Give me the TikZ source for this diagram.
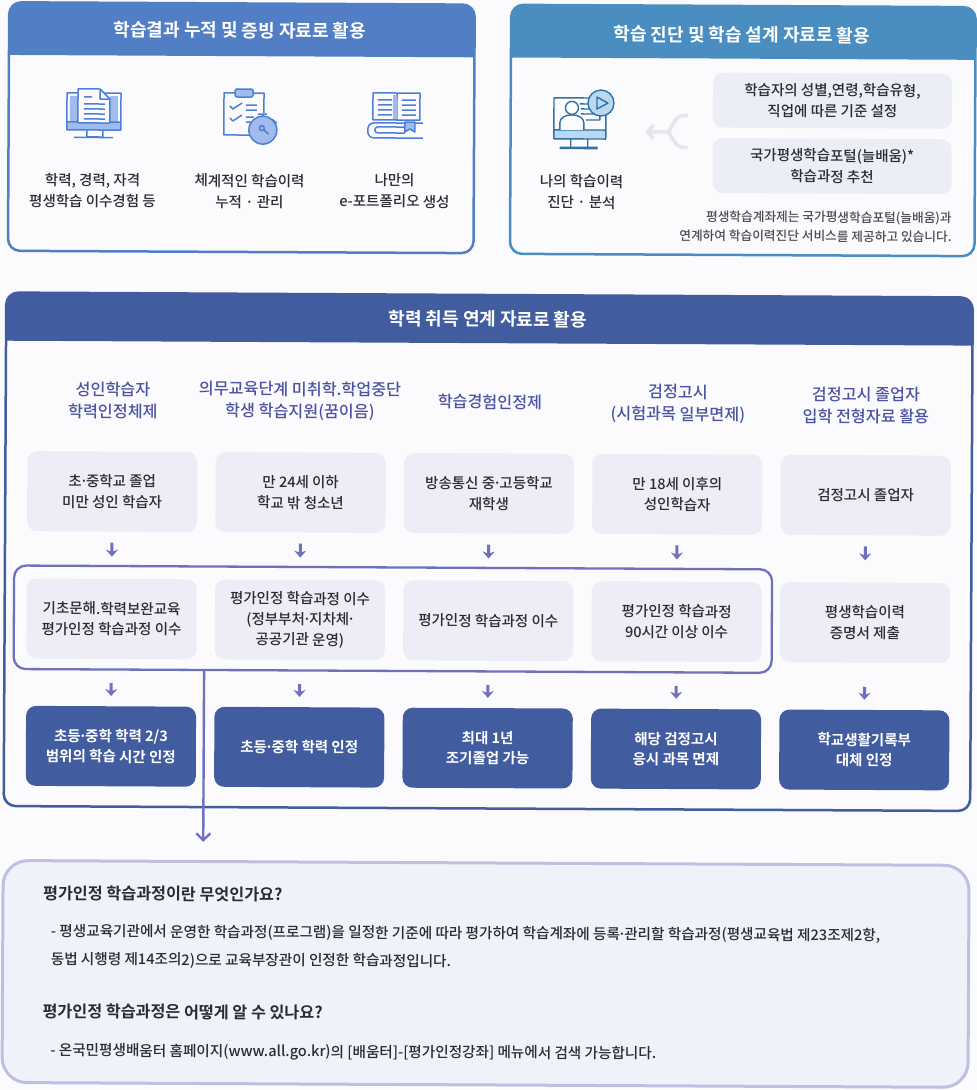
\documentclass[tikz,border=0pt]{standalone}
\usepackage{fontspec}
\setmainfont{Noto Sans CJK KR}[UprightFont=* Medium,BoldFont=* Bold]
\usetikzlibrary{arrows.meta,positioning}
\definecolor{paper}{HTML}{FBFBFD}
\definecolor{blue_a}{HTML}{527EC6}
\definecolor{blue_b}{HTML}{4A8DC0}
\definecolor{navy}{HTML}{415DA0}
\definecolor{violet}{HTML}{6F70BE}
\definecolor{soft}{HTML}{ECEDF6}
\definecolor{softb}{HTML}{EBEFF5}
\definecolor{softc}{HTML}{F0F2FA}
\definecolor{ink}{HTML}{2B2B33}
\definecolor{titleblue}{HTML}{4B53A3}
\definecolor{ic_a}{HTML}{4D7FD8}
\definecolor{ic_al}{HTML}{A0BCEC}
\definecolor{ic_b}{HTML}{2F72A8}
\definecolor{ic_bl}{HTML}{BAD8F0}
\definecolor{forkgray}{HTML}{E3E6EA}
\newcommand{\tdot}{\kern-.14em·\kern-.14em}
\tikzset{
  panel/.style 2 args={draw=#1,fill=paper,line width=2.5pt,rounded corners=12pt,anchor=north west,inner sep=0pt,
    path picture={\fill[#1,sharp corners] (path picture bounding box.north west) rectangle ([yshift=-#2]path picture bounding box.north east);}},
  head_txt/.style={font=\fontsize{18}{21}\selectfont\bfseries,text=white,align=center},
  plain_txt/.style={font=\fontsize{14.5}{21}\selectfont,text=ink,align=center},
  col_title/.style={font=\fontsize{16.2}{22}\selectfont,text=titleblue,align=center},
  node_soft/.style={fill=soft,rounded corners=10pt,minimum width=170pt,minimum height=80pt,inner sep=0pt,
    font=\fontsize{14.5}{20.5}\selectfont,text=ink,align=center},
  node_soft2/.style={fill=softb,rounded corners=10pt,minimum width=239pt,minimum height=55pt,inner sep=0pt,
    font=\fontsize{14.5}{21}\selectfont,text=ink,align=center},
  node_dark/.style={fill=navy,rounded corners=10pt,minimum width=170pt,minimum height=80pt,inner sep=0pt,
    font=\fontsize{14.5}{20.5}\selectfont\bfseries,text=white,align=center},
  faq_head/.style={font=\fontsize{16.2}{20}\selectfont\bfseries,text=ink,anchor=west,inner sep=0pt},
  faq_line/.style={font=\fontsize{14.6}{20}\selectfont,text=ink,anchor=west,inner sep=0pt},
  arr_in/.style={-{Stealth[length=7pt,width=12pt]},draw=violet,line width=3pt,shorten <=11pt,shorten >=22pt},
  arr_out/.style={-{Stealth[length=7pt,width=12pt]},draw=violet,line width=3pt,shorten <=24pt,shorten >=10pt},
  arr_long/.style={-{Straight Barb[length=7pt,width=14pt,line width=2.4pt]},draw=violet,line width=2.4pt},
  icon_a/.style={draw=ic_a,line width=1.5pt,line join=round},
  icon_b/.style={draw=ic_b,line width=1.4pt,line join=round},
}
\begin{document}
\begin{tikzpicture}
  \fill[paper] (0,0) rectangle (977pt,-1090pt);
  \useasboundingbox (0,0) rectangle (977pt,-1090pt);
  \begin{scope}[x=1pt,y=-1pt,rotate=-0.29,transform shape]
    % upper panels
    \node[panel={blue_a}{55pt},minimum width=465.5pt,minimum height=248.5pt] (pa) at (8,1) {};
    \node[head_txt] (ha) at (240,29) {학습결과 누적 및 증빙 자료로 활용};
    \node[panel={blue_b}{55pt},minimum width=464.5pt,minimum height=249pt] (pb) at (510,1) {};
    \node[head_txt] (hb) at (742,31) {학습 진단 및 학습 설계 자료로 활용};
    \node[plain_txt] (ta1) at (93.5,190) {학력, 경력, 자격\\평생학습 이수경험 등};
    \node[plain_txt] (ta2) at (250.5,190) {체계적인 학습이력\\누적 · 관리};
    \node[plain_txt] (ta3) at (395.5,189) {나만의\\e-포트폴리오 생성};
    \node[plain_txt] (tb1) at (582.5,189) {나의 학습이력\\진단 · 분석};
    \node[node_soft2] (b1) at (833,96.5) {학습자의 성별,연령,학습유형,\\직업에 따른 기준 설정};
    \node[node_soft2,below=10pt of b1] (b2) {국가평생학습포털(늘배움)*\\학습과정 추천};
    \node[font=\fontsize{12.7}{19}\selectfont,text=ink!85,align=right,anchor=east,inner sep=0pt] (nb) at (953,222.5)
      {평생학습계좌제는 국가평생학습포털(늘배움)과\\연계하여 학습이력진단 서비스를 제공하고 있습니다.};
    % icon: monitor with document
    \begin{scope}[shift={(0.5,-0.5)}]
      \fill[ic_al] (70,96) rectangle (78,122) (110,96) rectangle (118,122) (67,122) rectangle (121,130);
      \draw[icon_a] (67,93) rectangle (121,130) (67,122) -- (121,122) (87,130) rectangle (103,137) (74,137.5) -- (113,137.5);
      \draw[icon_a,fill=paper] (78,89) -- (100,89) -- (110,99) -- (110,123) -- (78,123) -- cycle;
      \draw[icon_a] (100,89) -- (100,99) -- (110,99) (84,97) -- (92,97) (84,104) -- (105,104) (84,109) -- (105,109) (84,114) -- (105,114) (84,119) -- (105,119);
    \end{scope}
    % icon: clipboard with stopwatch
    \begin{scope}[shift={(0.5,-1.2)}]
      \draw[icon_a] (264,113) -- (264,93) -- (224,93) -- (224,135) -- (250,135);
      \draw[icon_a,fill=ic_al,rounded corners=1.5pt] (235,89) rectangle (253,97);
      \draw[icon_a] (230,106) -- (233,109) -- (242,103) (230,118) -- (233,121) -- (242,115);
      \draw[icon_a] (246,105) -- (257,105) (246,110) -- (257,110) (246,117) -- (254,117) (246,122) -- (251,122);
      \draw[icon_a] (258,114) -- (267,114) (263,114) -- (263,117) (272,119) -- (277,123);
      \draw[icon_a,fill=ic_al] (263,130) circle[radius=14];
      \draw[icon_a] (262,128) circle[radius=2.5] (264,130) -- (269,134);
    \end{scope}
    % icon: books
    \begin{scope}[shift={(0.5,-2)}]
      \draw[icon_a,fill=paper] (373,93) rectangle (397,120) (397,93) rectangle (420,120);
      \fill[ic_al] (393,95) rectangle (397,119);
      \draw[icon_a] (378,100) -- (392,100) (378,105) -- (392,105) (378,110) -- (392,110) (378,115) -- (392,115);
      \draw[icon_a] (402,100) -- (416,100) (402,105) -- (416,105) (402,110) -- (416,110) (402,115) -- (416,115);
      \draw[icon_a,rounded corners=6pt] (423,123) -- (368,123) -- (368,138) -- (423,138);
      \draw[icon_a,rounded corners=3pt] (405,127) -- (375,127) -- (375,133) -- (405,133);
      \draw[icon_a,fill=ic_al] (405,122) -- (415,122) -- (415,132) -- (410,129) -- (405,132) -- cycle;
    \end{scope}
    % icon: monitor with person
    \begin{scope}[shift={(0.5,-3)}]
      \fill[ic_bl] (554,130) rectangle (606,139);
      \draw[icon_b] (590,98) -- (554,98) -- (554,139) -- (606,139) -- (606,112) (554,130) -- (606,130) (571,139) -- (571,147) (588,139) -- (588,147);
      \draw[ic_b,line width=2.6pt] (560,148) -- (598,148);
      \draw[icon_b,fill=paper] (560,130) -- (560,123) to[out=90,in=180] (572,115) to[out=0,in=90] (584,123) -- (584,130);
      \draw[icon_b,fill=paper] (572,108) circle[radius=6.5];
      \draw[icon_b] (580,104) -- (590,104) (581,109) -- (596,109) (581,114) -- (600,114) -- (600,120) -- (586,120);
      \draw[icon_b,fill=ic_bl] (601,103) circle[radius=13];
      \draw[icon_b] (597,97) -- (608,103) -- (597,109) -- cycle;
    \end{scope}
    \coordinate (fork_top) at (688.5,112);
    \coordinate (fork_bot) at (688.5,144);
    \coordinate (fork_mid) at (668.5,128.5);
    \coordinate (fork_tip) at (646,128.5);
    \draw[draw=forkgray,line width=3.6pt,rounded corners=4pt] (fork_top) -- ++(-9,0) -- (fork_mid) -- ++(11,15.5) -- (fork_bot);
    \draw[-{Straight Barb[length=6pt,width=14pt,line width=3.6pt]},draw=forkgray,line width=3.6pt] (fork_mid) -- (fork_tip);
    % main panel
    \node[panel={navy}{53pt},minimum width=966.5pt,minimum height=513.5pt] (pc) at (6.5,291.3) {};
    \node[head_txt] (hc) at (489.5,316.6) {학력 취득 연계 자료로 활용};
    \node[draw=violet,line width=2.3pt,rounded corners=12pt,minimum width=758pt,minimum height=103.5pt,inner sep=0pt] (grp) at (396,617.2) {};
    \node[col_title] (t1) at (115,400) {성인학습자\\학력인정체제};
    \node[col_title] (t2) at (302,399.5) {의무교육단계 미취학.학업중단\\학생 학습지원(꿈이음)};
    \node[col_title] (t3) at (492,399.5) {학습경험인정제};
    \node[col_title] (t4) at (680,400.5) {검정고시\\(시험과목 일부면제)};
    \node[col_title] (t5) at (868,401) {검정고시 졸업자\\입학 전형자료 활용};
    \node[node_soft] (a1) at (114.7,491) {초\tdot 중학교 졸업\\미만 성인 학습자};
    \node[node_soft,right=18pt of a1] (a2) {만 24세 이하\\학교 밖 청소년};
    \node[node_soft,right=18pt of a2] (a3) {방송통신 중\tdot 고등학교\\재학생};
    \node[node_soft,right=18pt of a3] (a4) {만 18세 이후의\\성인학습자};
    \node[node_soft,right=18pt of a4] (a5) {검정고시 졸업자};
    \node[node_soft,below=47pt of a1] (c1) {기초문해.학력보완교육\\평가인정 학습과정 이수};
    \node[node_soft,below=47pt of a2] (c2) {평가인정 학습과정 이수\\(정부부처\tdot 지차체\tdot\\공공기관 운영)};
    \node[node_soft,below=47pt of a3] (c3) {평가인정 학습과정 이수};
    \node[node_soft,below=47pt of a4] (c4) {평가인정 학습과정\\90시간 이상 이수};
    \node[node_soft,below=47pt of a5] (c5) {평생학습이력\\증명서 제출};
    \node[node_dark,below=47pt of c1] (r1) {초등\tdot 중학 학력 2/3\\범위의 학습 시간 인정};
    \node[node_dark,below=47pt of c2] (r2) {초등\tdot 중학 학력 인정};
    \node[node_dark,below=47pt of c3] (r3) {최대 1년\\조기졸업 가능};
    \node[node_dark,below=47pt of c4] (r4) {해당 검정고시\\응시 과목 면제};
    \node[node_dark,below=47pt of c5] (r5) {학교생활기록부\\대체 인정};
    \draw[arr_in](a1)--(c1);\draw[arr_in](a2)--(c2);\draw[arr_in](a3)--(c3);\draw[arr_in](a4)--(c4);\draw[arr_in](a5)--(c5);
    \draw[arr_out](c1)--(r1);\draw[arr_out](c2)--(r2);\draw[arr_out](c3)--(r3);\draw[arr_out](c4)--(r4);\draw[arr_out](c5)--(r5);
    % lower panel
    \node[draw=violet!45,fill=softc,line width=3pt,rounded corners=25pt,anchor=north west,inner sep=0pt,
      minimum width=966pt,minimum height=222pt] (pd) at (6,859) {};
    \coordinate (drop) at (207.5,841);
    \draw[arr_long] (grp.south -| drop) -- (drop);
    \node[faq_head] (q1) at (47.5,893) {평가인정 학습과정이란 무엇인가요?};
    \node[faq_line] (l1) at (55.5,931.5) {- 평생교육기관에서 운영한 학습과정(프로그램)을 일정한 기준에 따라 평가하여 학습계좌에 등록\tdot 관리할 학습과정(평생교육법 제23조제2항,};
    \node[faq_line] (l2) at (55.5,959.5) {동법 시행령 제14조의2)으로 교육부장관이 인정한 학습과정입니다.};
    \node[faq_head] (q2) at (47.5,1011) {평가인정 학습과정은 어떻게 알 수 있나요?};
    \node[faq_line] (l3) at (55.5,1051) {- 온국민평생배움터 홈페이지(www.all.go.kr)의 [배움터]-[평가인정강좌] 메뉴에서 검색 가능합니다.};
  \end{scope}
\end{tikzpicture}
\end{document}
